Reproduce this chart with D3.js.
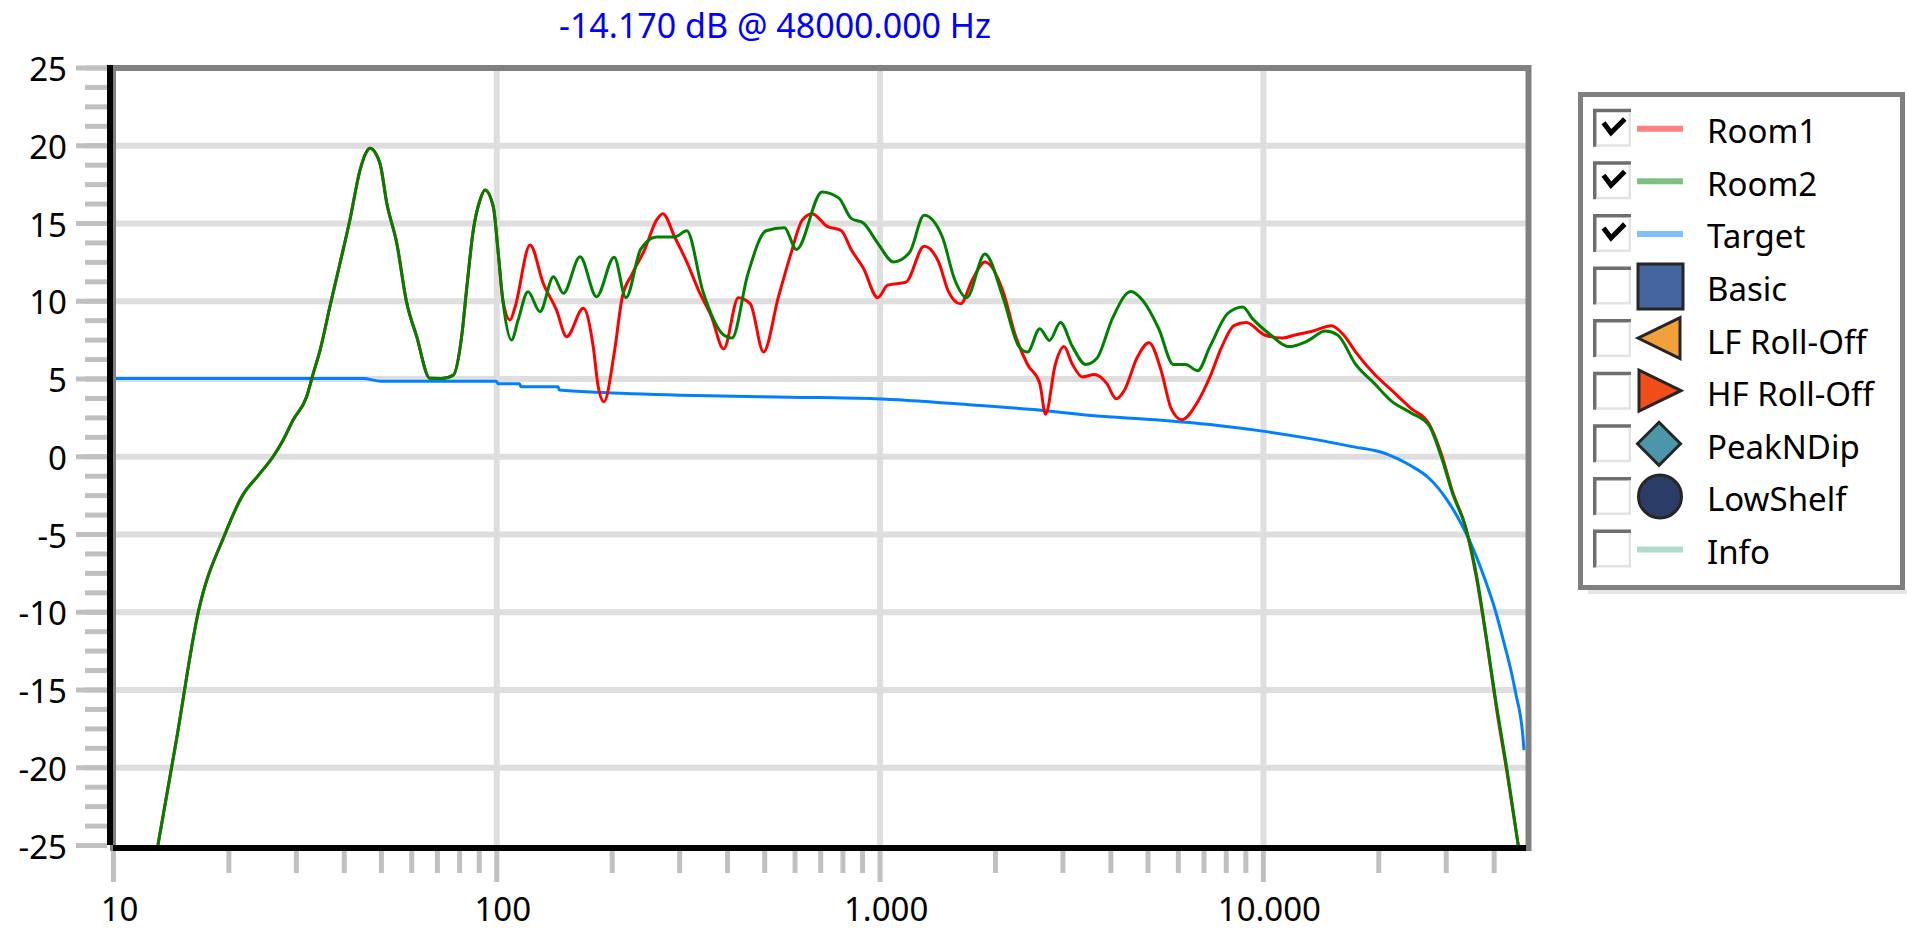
<!DOCTYPE html>
<html>
<head>
<meta charset="utf-8">
<title>Room response</title>
<script src="https://d3js.org/d3.v7.min.js"></script>
<style>
	body { margin: 0; background: #fff; overflow: hidden; }
	text { font-family: "Noto Sans", "Segoe UI", sans-serif; }
</style>
</head>
<body>
<div id="chart"></div>
<script>
(function () {
	"use strict";

	// Readings taken off the measurement plot (Hz, dB).
	// Below ~104 Hz both rooms lie on top of each other, so they share that part.
	var sharedFreq = [13.1, 14.6, 16.7, 19.6, 21.8, 24.0, 26.2, 27.8, 29.5, 32.0, 33.3, 34.7, 36.8, 39.1, 41.5, 44.1, 45.9,
			46.8, 49.7, 51.8, 55.0, 58.3, 62.0, 67.1, 72.0, 77.3, 81.2, 83.8, 87.1, 90.7, 93.4, 98.2, 101.2, 104.0],
		sharedDb = [-25, -18.4, -10, -5, -2.5, -1.2, 0, 1.05, 2.33, 3.83, 5.33, 6.83, 9.62, 12.41, 15.19, 18.4, 19.6,
			19.8, 18.84, 16.27, 13.7, 9.94, 7.69, 5.01, 5.0, 5.23, 7.69, 10.9, 14.55, 16.48, 17.12, 16.05, 13.05, 10.05];

	var room1Freq = [108.7, 112, 122.5, 132.6, 143.6, 152.6, 168.7, 179, 184.5, 191, 203, 213, 226, 244, 262, 272, 292,
			314, 338, 364, 392, 428, 460, 498, 544, 585, 629, 667, 728, 795, 843, 907, 989, 1050, 1172, 1307, 1425, 1512,
			1626, 1750, 1883, 2100, 2259, 2432, 2617, 2710, 2874, 3026, 3186, 3381, 3634, 3909, 4142, 4363, 4690, 5046,
			5429, 5757, 6147, 6760, 7275, 7816, 8408, 9050, 10100, 11260, 12120, 13520, 15100, 16250, 17470, 19500,
			21770, 24300, 27100, 29170, 31360, 33740, 36300, 38360, 40730, 43250, 46360],
		room1Db = [8.76, 9.62, 13.59, 11.12, 9.4, 7.69, 9.51, 7.05, 4.47, 3.5, 6.6, 10.2, 11.7, 13.3, 15.2, 15.6, 14.1,
			12.5, 10.6, 9.0, 6.9, 10.2, 9.8, 6.7, 10.2, 12.9, 15.2, 15.6, 14.8, 14.5, 13.3, 12.1, 10.2, 11.0, 11.2, 13.5, 12.5, 10.6,
			9.8, 11.4, 12.5, 10.6, 7.8, 5.9, 4.7, 2.7, 5.9, 7.05, 5.9, 5.1, 5.25, 4.7, 3.7, 4.3, 6.3, 7.3,
			5.5, 3.1, 2.35, 3.5, 5.1, 7.05, 8.4, 8.6, 7.8, 7.6, 7.8, 8.05, 8.4, 7.8, 6.7, 5.3,
			4.2, 3.1, 2.1, 0.2, -2.4, -4.5, -8.2, -11.9, -16.3, -20.2, -25];

	var room2Freq = [109.6, 114, 121, 130, 141, 149.6, 165.4, 182.6, 203, 218, 238, 262, 292, 314, 346, 392, 412, 453,
			506, 564, 607, 708, 783, 843, 907, 989, 1088, 1197, 1307, 1458, 1568, 1687, 1883, 2100, 2311, 2432, 2617,
			2774, 2964, 3186, 3452, 3690, 4056, 4524, 4866, 5350, 5843, 6285, 6760, 7275, 8113, 8857, 9393, 10480,
			11690, 13050, 14560, 15670, 17470, 19500, 21770, 24300, 27100, 29170, 31360, 33740, 36300, 38360, 40730,
			43250, 46360],
		room2Db = [7.48, 8.76, 10.58, 9.3, 11.55, 10.48, 12.83, 10.26, 12.8, 10.2, 13.3, 14.1, 14.1, 14.5, 10.6, 7.8, 7.6, 11.7,
			14.5, 14.7, 13.3, 17.0, 16.6, 15.3, 15.0, 13.7, 12.5, 13.1, 15.5, 14.1, 11.4, 10.2, 13.0, 10.2, 7.05, 6.7, 8.2,
			7.45, 8.6, 7.05, 5.9, 6.3, 8.9, 10.6, 10.0, 8.2, 5.9, 5.9, 5.5, 7.05, 9.2, 9.6, 8.85, 7.8,
			7.05, 7.4, 8.05, 7.8, 5.9, 4.7, 3.5, 2.8, 2.0, 0, -2.5, -4.5, -8, -11.8, -16.1,
			-20, -25];

	var targetFreq = [10, 45, 50, 100, 101, 115, 116, 145, 146, 190, 330, 585, 975, 1750, 2522, 3634, 5236, 7546,
			10100, 13520, 16850, 20990, 24290, 27100, 30220, 32530, 35010, 37680, 40490, 42360, 44600, 45900, 46900,
			47500, 48000],
		targetDb = [5.0, 5.0, 4.82, 4.82, 4.67, 4.67, 4.47, 4.47, 4.26, 4.1, 3.9, 3.8, 3.7, 3.3, 3.0, 2.6, 2.35, 2.0,
			1.6, 1.1, 0.65, 0.15, -0.6, -1.4, -2.8, -4.1, -5.7, -7.7, -10.0, -11.8, -14.0, -15.5, -16.6,
			-17.6, -18.9];

	var xMajorTicks = [10, 100, 1000, 10000],
		xTickLabels = ["10", "100", "1.000", "10.000"],
		xMinorTicks = [20, 30, 40, 50, 60, 70, 80, 90, 200, 300, 400, 500, 600, 700, 800, 900,
			2000, 3000, 4000, 5000, 6000, 7000, 8000, 9000, 20000, 30000, 40000],
		yMajorTicks = [-25, -20, -15, -10, -5, 0, 5, 10, 15, 20, 25],
		yTickLabels = ["-25", "-20", "-15", "-10", "-5", "0", "5", "10", "15", "20", "25"];

	var legendLabels = ["Room1", "Room2", "Target", "Basic", "LF Roll-Off", "HF Roll-Off", "PeakNDip", "LowShelf", "Info"],
		legendChecked = [true, true, true, false, false, false, false, false, false];

	var cursorText = "-14.170 dB @ 48000.000 Hz";

	// ---- layout & styles ----
	var width = 1907, height = 931,
		plot = {left: 113, right: 1526, top: 68, bottom: 845},
		tickColor = "#c0c0c0",
		gridColor = "#dedede",
		frameColor = "#808080",
		legendKinds = ["line", "line", "line", "square", "triLeft", "triRight", "diamond", "circle", "line"],
		legendColors = ["#ff8080", "#80c080", "#80c0ff", "#4565a1", "#f2a03a", "#f04d1a", "#4b96a8", "#2b3c67", "#b0dccf"];

	var svg = d3.select("#chart").append("svg")
		.attr("width", width)
		.attr("height", height);

	svg.append("rect").attr("width", width).attr("height", height).attr("fill", "#fff");

	var x = d3.scaleLog().domain([10, 48000]).range([113, 1524]),
		y = d3.scaleLinear().domain([-25, 25]).range([845, 67.5]);

	function drawGrid() {
		var hGrid = svg.append("g")
			.attr("class", "grid grid--y")
			.attr("transform", "translate(" + plot.left + ",0)")
			.call(d3.axisLeft(y)
				.tickValues(yMajorTicks.filter(function (v) { return v > -25 && v < 25; }))
				.tickSize(-(plot.right - plot.left))
				.tickFormat(""));
		hGrid.select(".domain").remove();
		hGrid.selectAll("line").attr("stroke", gridColor).attr("stroke-width", 6);

		var vGrid = svg.append("g")
			.attr("class", "grid grid--x")
			.attr("transform", "translate(0," + plot.bottom + ")")
			.call(d3.axisBottom(x)
				.tickValues(xMajorTicks.slice(1))
				.tickSize(-(plot.bottom - plot.top))
				.tickFormat(""));
		vGrid.select(".domain").remove();
		vGrid.selectAll("line").attr("stroke", gridColor).attr("stroke-width", 6);
	}

	function drawAxes() {
		// y axis: minor ticks every 1.25 dB, labelled majors every 5 dB
		var yMinor = svg.append("g")
			.attr("transform", "translate(107,0)")
			.call(d3.axisLeft(y).tickValues(d3.range(-25, 25.01, 1.25)).tickSize(22).tickFormat(""));
		var yMajor = svg.append("g")
			.attr("transform", "translate(107,0)")
			.call(d3.axisLeft(y).tickValues(yMajorTicks).tickSize(31).tickPadding(9)
				.tickFormat(function (d, i) { return yTickLabels[i]; }));

		// x axis: log decades labelled, intermediate ticks unlabelled
		var xMinor = svg.append("g")
			.attr("transform", "translate(0,851)")
			.call(d3.axisBottom(x).tickValues(xMinorTicks).tickSize(22).tickFormat(""));
		var xMajor = svg.append("g")
			.attr("transform", "translate(0,851)")
			.call(d3.axisBottom(x).tickValues(xMajorTicks).tickSize(31).tickPadding(16)
				.tickFormat(function (d, i) { return xTickLabels[i]; }));

		[yMinor, yMajor, xMinor, xMajor].forEach(function (g) {
			g.attr("font-family", null).attr("font-size", null);
			g.select(".domain").remove();
			g.selectAll("line").attr("stroke", tickColor).attr("stroke-width", 5);
			g.selectAll("text").attr("fill", "#000").style("font-size", "33px");
		});
		yMajor.selectAll("text").attr("dy", "0.4em");
		xMajor.selectAll("text").attr("dx", 6);
	}

	function drawCurves() {
		svg.append("clipPath").attr("id", "plot-clip")
			.append("rect")
			.attr("x", plot.left).attr("y", plot.top)
			.attr("width", plot.right - plot.left).attr("height", plot.bottom - plot.top);

		var g = svg.append("g").attr("clip-path", "url(#plot-clip)");

		var smooth = d3.line()
			.x(function (d) { return x(d[0]); })
			.y(function (d) { return y(d[1]); })
			.curve(d3.curveMonotoneX);

		var series = [
			{data: d3.zip(targetFreq, targetDb), color: "#0080ff"},
			{data: d3.zip(sharedFreq.concat(room1Freq), sharedDb.concat(room1Db)), color: "#ff0000"},
			{data: d3.zip(sharedFreq.concat(room2Freq), sharedDb.concat(room2Db)), color: "#008000"}
		];
		series.forEach(function (s) {
			g.append("path")
				.datum(s.data)
				.attr("fill", "none")
				.attr("stroke", s.color)
				.attr("stroke-width", 3)
				.attr("stroke-linejoin", "round")
				.attr("d", smooth);
		});
	}

	function drawFrame() {
		svg.append("rect")
			.attr("x", plot.left).attr("y", plot.top)
			.attr("width", 1528.5 - plot.left).attr("height", 848 - plot.top)
			.attr("fill", "none").attr("stroke", frameColor).attr("stroke-width", 6);
		svg.append("rect").attr("x", 107).attr("y", 65).attr("width", 6).attr("height", 780).attr("fill", "#000");
		svg.append("rect").attr("x", 113).attr("y", 845).attr("width", 1413).attr("height", 6).attr("fill", "#000");
	}

	function drawTitle() {
		svg.append("text")
			.attr("x", 775).attr("y", 37.5)
			.attr("text-anchor", "middle")
			.attr("fill", "#0000ff")
			.style("font-size", "34px")
			.text(cursorText);
	}

	function drawLegend() {
		var rowTop = 127.7, rowStep = 52.6;

		svg.append("rect").attr("x", 1588).attr("y", 590).attr("width", 319).attr("height", 4).attr("fill", "#e6e6e6");
		svg.append("rect")
			.attr("x", 1580.5).attr("y", 94.5).attr("width", 322).attr("height", 493)
			.attr("fill", "#fff").attr("stroke", frameColor).attr("stroke-width", 5);

		var rows = svg.append("g").attr("class", "legend")
			.selectAll("g").data(legendLabels).enter().append("g")
			.attr("transform", function (d, i) { return "translate(0," + (rowTop + i * rowStep) + ")"; });

		// sunken checkbox
		rows.append("rect").attr("x", 1593).attr("y", -19).attr("width", 38).attr("height", 38).attr("fill", "#fff");
		rows.append("path").attr("d", "M1594.75,19V-17.25H1631")
			.attr("fill", "none").attr("stroke", "#6e6e6e").attr("stroke-width", 3.5);
		rows.append("path").attr("d", "M1596.5,17.75H1629.75V-15.5")
			.attr("fill", "none").attr("stroke", "#e3e3e3").attr("stroke-width", 2.5);
		rows.filter(function (d, i) { return legendChecked[i]; })
			.append("polyline")
			.attr("points", "1605,-3 1611,5 1623,-7")
			.attr("fill", "none").attr("stroke", "#000").attr("stroke-width", 5)
			.attr("stroke-linejoin", "miter").attr("stroke-linecap", "square");

		rows.each(function (d, i) {
			var row = d3.select(this),
				kind = legendKinds[i],
				color = legendColors[i],
				shape;
			if (kind === "line") {
				row.append("line").attr("x1", 1637).attr("x2", 1683).attr("y1", 1).attr("y2", 1)
					.attr("stroke", color).attr("stroke-width", 6);
				return;
			}
			if (kind === "square") {
				shape = row.append("rect").attr("x", 1638).attr("y", -21.5).attr("width", 45).attr("height", 45);
			} else if (kind === "circle") {
				shape = row.append("circle").attr("cx", 1660).attr("cy", 0.5).attr("r", 21.5);
			} else {
				var d = {
					triLeft: "M1638,0L1680,-20.5V20.5Z",
					triRight: "M1681,0L1639,-20.5V20.5Z",
					diamond: "M1659,-21L1680.5,0.5L1659,22L1637.5,0.5Z"
				}[kind];
				shape = row.append("path").attr("d", d);
			}
			shape.attr("fill", color).attr("stroke", "#262626").attr("stroke-width", 3)
				.attr("stroke-linejoin", "miter");
		});

		rows.append("text")
			.attr("x", 1707).attr("y", 15.5)
			.attr("fill", "#000")
			.style("font-size", "33px")
			.text(function (d) { return d; });
	}

	drawGrid();
	drawCurves();
	drawFrame();
	drawAxes();
	drawTitle();
	drawLegend();
})();
</script>
</body>
</html>
